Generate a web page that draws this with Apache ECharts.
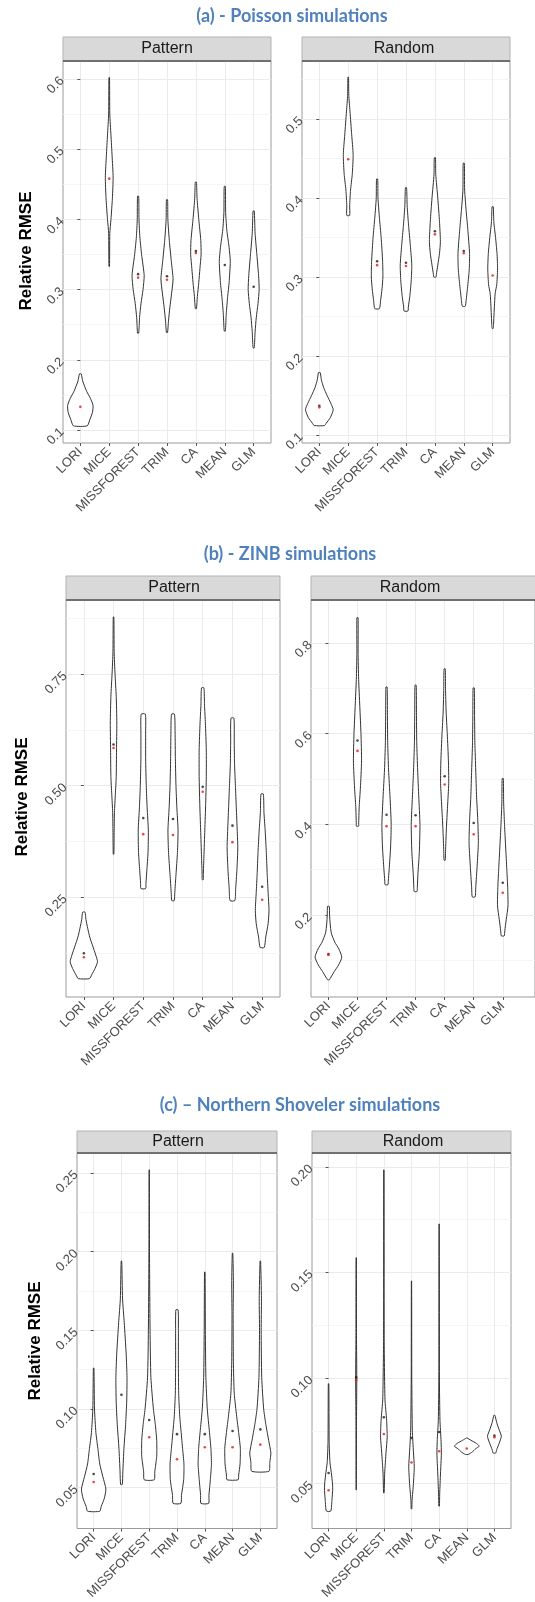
<!DOCTYPE html>
<html>
<head>
<meta charset="utf-8">
<script src="https://cdn.jsdelivr.net/npm/echarts@6/dist/echarts.min.js"></script>
<style>
  html, body { margin: 0; padding: 0; background: #fff; }
  #chart { width: 535px; height: 1602px; }
</style>
</head>
<body>
<div id="chart"></div>
<script>
const methods = ['LORI', 'MICE', 'MISSFOREST', 'TRIM', 'CA', 'MEAN', 'GLM']

// violin outlines: [value, half width in category units], top to bottom
const poissonPattern = [
  [[0.180, 0.03], [0.170, 0.08], [0.155, 0.22], [0.145, 0.35], [0.135, 0.44], [0.125, 0.42], [0.115, 0.33], [0.106, 0.24]],
  [[0.602, 0.01], [0.550, 0.02], [0.520, 0.06], [0.490, 0.10], [0.460, 0.135], [0.430, 0.11], [0.400, 0.06], [0.380, 0.02], [0.333, 0.01]],
  [[0.433, 0.02], [0.400, 0.03], [0.375, 0.06], [0.350, 0.12], [0.320, 0.21], [0.300, 0.17], [0.280, 0.10], [0.260, 0.05], [0.238, 0.02]],
  [[0.428, 0.02], [0.400, 0.03], [0.370, 0.08], [0.340, 0.15], [0.315, 0.21], [0.295, 0.16], [0.275, 0.10], [0.255, 0.05], [0.239, 0.02]],
  [[0.453, 0.02], [0.430, 0.04], [0.400, 0.10], [0.370, 0.17], [0.350, 0.18], [0.330, 0.14], [0.310, 0.10], [0.290, 0.05], [0.273, 0.02]],
  [[0.447, 0.02], [0.410, 0.03], [0.385, 0.07], [0.360, 0.15], [0.340, 0.19], [0.310, 0.15], [0.290, 0.10], [0.265, 0.05], [0.241, 0.02]],
  [[0.412, 0.02], [0.380, 0.05], [0.350, 0.11], [0.320, 0.17], [0.300, 0.19], [0.280, 0.15], [0.260, 0.09], [0.240, 0.05], [0.217, 0.02]]
]
const poissonRandom = [
  [[0.179, 0.03], [0.170, 0.07], [0.160, 0.15], [0.150, 0.27], [0.140, 0.40], [0.132, 0.48], [0.122, 0.38], [0.115, 0.24], [0.112, 0.18]],
  [[0.553, 0.01], [0.530, 0.02], [0.510, 0.06], [0.480, 0.12], [0.455, 0.17], [0.430, 0.14], [0.410, 0.08], [0.390, 0.05], [0.378, 0.05]],
  [[0.424, 0.02], [0.400, 0.03], [0.375, 0.08], [0.350, 0.14], [0.320, 0.19], [0.300, 0.20], [0.285, 0.17], [0.270, 0.12], [0.260, 0.08]],
  [[0.413, 0.02], [0.390, 0.04], [0.365, 0.09], [0.340, 0.15], [0.315, 0.20], [0.295, 0.18], [0.275, 0.13], [0.262, 0.08], [0.257, 0.07]],
  [[0.451, 0.02], [0.430, 0.03], [0.400, 0.10], [0.370, 0.16], [0.345, 0.19], [0.330, 0.16], [0.315, 0.10], [0.303, 0.05], [0.300, 0.04]],
  [[0.444, 0.02], [0.410, 0.03], [0.385, 0.08], [0.360, 0.14], [0.330, 0.20], [0.310, 0.19], [0.290, 0.14], [0.270, 0.08], [0.263, 0.05]],
  [[0.389, 0.02], [0.370, 0.04], [0.350, 0.10], [0.330, 0.15], [0.310, 0.17], [0.290, 0.14], [0.280, 0.09], [0.270, 0.07], [0.255, 0.05], [0.240, 0.03], [0.235, 0.02]]
]
const zinbPattern = [
  [[0.216, 0.04], [0.200, 0.07], [0.180, 0.13], [0.160, 0.20], [0.140, 0.30], [0.120, 0.40], [0.105, 0.46], [0.090, 0.38], [0.075, 0.26], [0.067, 0.19]],
  [[0.878, 0.01], [0.800, 0.02], [0.750, 0.05], [0.700, 0.09], [0.640, 0.11], [0.580, 0.10], [0.520, 0.09], [0.480, 0.06], [0.440, 0.03], [0.400, 0.02], [0.346, 0.01]],
  [[0.660, 0.07], [0.620, 0.08], [0.560, 0.08], [0.500, 0.10], [0.450, 0.13], [0.400, 0.17], [0.350, 0.16], [0.310, 0.12], [0.280, 0.09], [0.269, 0.08]],
  [[0.660, 0.05], [0.620, 0.07], [0.560, 0.08], [0.500, 0.10], [0.450, 0.13], [0.400, 0.17], [0.350, 0.15], [0.300, 0.10], [0.260, 0.06], [0.242, 0.04]],
  [[0.719, 0.04], [0.680, 0.06], [0.640, 0.09], [0.580, 0.12], [0.520, 0.12], [0.460, 0.10], [0.400, 0.07], [0.340, 0.04], [0.300, 0.02], [0.289, 0.02]],
  [[0.651, 0.05], [0.600, 0.06], [0.550, 0.07], [0.500, 0.10], [0.450, 0.13], [0.400, 0.16], [0.360, 0.18], [0.310, 0.15], [0.270, 0.11], [0.242, 0.08]],
  [[0.481, 0.04], [0.440, 0.06], [0.400, 0.10], [0.350, 0.14], [0.300, 0.17], [0.260, 0.20], [0.220, 0.23], [0.190, 0.20], [0.160, 0.12], [0.137, 0.07]]
]
const zinbRandom = [
  [[0.219, 0.03], [0.200, 0.04], [0.180, 0.06], [0.160, 0.10], [0.140, 0.22], [0.125, 0.36], [0.107, 0.46], [0.090, 0.35], [0.075, 0.20], [0.060, 0.06], [0.057, 0.03]],
  [[0.856, 0.02], [0.780, 0.02], [0.720, 0.04], [0.660, 0.08], [0.600, 0.12], [0.540, 0.14], [0.480, 0.10], [0.440, 0.06], [0.400, 0.04], [0.396, 0.04]],
  [[0.703, 0.02], [0.640, 0.03], [0.580, 0.04], [0.520, 0.07], [0.460, 0.12], [0.400, 0.16], [0.350, 0.14], [0.300, 0.09], [0.275, 0.06], [0.267, 0.05]],
  [[0.707, 0.02], [0.640, 0.03], [0.580, 0.04], [0.520, 0.07], [0.460, 0.11], [0.400, 0.15], [0.340, 0.13], [0.290, 0.08], [0.260, 0.06], [0.252, 0.05]],
  [[0.743, 0.02], [0.700, 0.03], [0.650, 0.05], [0.600, 0.09], [0.540, 0.13], [0.490, 0.14], [0.440, 0.10], [0.390, 0.06], [0.340, 0.03], [0.321, 0.02]],
  [[0.701, 0.02], [0.640, 0.03], [0.580, 0.04], [0.520, 0.07], [0.460, 0.10], [0.410, 0.14], [0.360, 0.16], [0.310, 0.12], [0.260, 0.07], [0.240, 0.05]],
  [[0.501, 0.02], [0.450, 0.03], [0.400, 0.06], [0.350, 0.10], [0.300, 0.14], [0.260, 0.17], [0.220, 0.18], [0.190, 0.12], [0.165, 0.07], [0.154, 0.05]]
]
const shovelerPattern = [
  [[0.126, 0.01], [0.100, 0.03], [0.085, 0.08], [0.075, 0.15], [0.065, 0.22], [0.057, 0.33], [0.049, 0.44], [0.043, 0.38], [0.038, 0.27], [0.035, 0.22]],
  [[0.194, 0.01], [0.170, 0.04], [0.155, 0.10], [0.135, 0.17], [0.120, 0.20], [0.105, 0.19], [0.090, 0.15], [0.075, 0.09], [0.060, 0.05], [0.052, 0.03]],
  [[0.252, 0.005], [0.200, 0.01], [0.150, 0.03], [0.120, 0.06], [0.100, 0.15], [0.090, 0.22], [0.080, 0.27], [0.070, 0.27], [0.060, 0.20], [0.055, 0.18]],
  [[0.163, 0.04], [0.150, 0.05], [0.130, 0.05], [0.110, 0.06], [0.095, 0.10], [0.085, 0.15], [0.075, 0.20], [0.065, 0.25], [0.055, 0.24], [0.045, 0.16], [0.040, 0.14]],
  [[0.187, 0.01], [0.150, 0.02], [0.120, 0.04], [0.100, 0.09], [0.085, 0.17], [0.075, 0.22], [0.065, 0.24], [0.055, 0.20], [0.045, 0.15], [0.040, 0.14]],
  [[0.199, 0.01], [0.180, 0.03], [0.160, 0.02], [0.130, 0.03], [0.110, 0.06], [0.095, 0.15], [0.085, 0.22], [0.075, 0.28], [0.065, 0.27], [0.058, 0.22], [0.055, 0.20]],
  [[0.194, 0.01], [0.170, 0.04], [0.150, 0.03], [0.120, 0.05], [0.100, 0.12], [0.090, 0.20], [0.080, 0.30], [0.072, 0.38], [0.066, 0.34], [0.0604, 0.31]]
]
const shovelerRandom = [
  [[0.0973, 0.01], [0.070, 0.02], [0.060, 0.05], [0.054, 0.11], [0.048, 0.15], [0.042, 0.12], [0.037, 0.08]],
  [[0.157, 0.005], [0.120, 0.01], [0.100, 0.02], [0.080, 0.01], [0.047, 0.005]],
  [[0.1986, 0.005], [0.120, 0.01], [0.090, 0.04], [0.080, 0.10], [0.072, 0.12], [0.065, 0.08], [0.055, 0.03], [0.0456, 0.01]],
  [[0.146, 0.005], [0.100, 0.01], [0.075, 0.03], [0.065, 0.07], [0.058, 0.10], [0.050, 0.07], [0.042, 0.02], [0.038, 0.01]],
  [[0.173, 0.005], [0.100, 0.01], [0.080, 0.03], [0.070, 0.07], [0.064, 0.08], [0.055, 0.05], [0.045, 0.02], [0.0393, 0.01]],
  [[0.0716, 0.01], [0.0705, 0.15], [0.069, 0.35], [0.0677, 0.45], [0.0665, 0.32], [0.065, 0.20], [0.0638, 0.05]],
  [[0.0823, 0.02], [0.079, 0.08], [0.0755, 0.17], [0.0724, 0.25], [0.069, 0.17], [0.066, 0.08], [0.0645, 0.05]]
]

// summary dots per method (black and red)
const poissonPatternBlack = [null, null, 0.322, 0.319, 0.355, 0.335, 0.304]
const poissonPatternRed = [0.133, 0.458, 0.317, 0.314, 0.352, null, null]
const poissonRandomBlack = [0.137, null, 0.320, 0.318, 0.358, 0.333, null]
const poissonRandomRed = [0.135, 0.449, 0.315, 0.314, 0.354, 0.330, 0.302]
const zinbPatternBlack = [0.124, 0.592, 0.427, 0.425, 0.497, 0.410, 0.273]
const zinbPatternRed = [0.115, 0.584, 0.391, 0.389, 0.486, 0.373, 0.244]
const zinbRandomBlack = [0.114, 0.585, 0.421, 0.420, 0.506, 0.403, 0.271]
const zinbRandomRed = [0.112, 0.562, 0.396, 0.396, 0.488, 0.378, 0.249]
const shovelerPatternBlack = [0.0587, 0.109, 0.093, 0.084, 0.084, 0.086, 0.087]
const shovelerPatternRed = [0.0536, null, 0.082, 0.068, 0.0757, 0.0757, 0.0773]
const shovelerRandomBlack = [0.055, 0.1003, 0.0814, 0.0716, 0.0744, null, 0.0727]
const shovelerRandomRed = [0.0468, 0.0989, 0.0735, 0.060, 0.0653, 0.0666, 0.072]

// tick labels and minor grid values
const poissonPatternTicks = [0.1, 0.2, 0.3, 0.4, 0.5, 0.6]
const poissonPatternMinor = [0.15, 0.25, 0.35, 0.45, 0.55]
const poissonRandomTicks = [0.1, 0.2, 0.3, 0.4, 0.5]
const poissonRandomMinor = [0.15, 0.25, 0.35, 0.45, 0.55]
const zinbPatternTicks = [0.25, 0.5, 0.75]
const zinbPatternMinor = [0.125, 0.375, 0.625, 0.875]
const zinbRandomTicks = [0.2, 0.4, 0.6, 0.8]
const zinbRandomMinor = [0.1, 0.3, 0.5, 0.7]
const shovelerPatternTicks = [0.05, 0.1, 0.15, 0.2, 0.25]
const shovelerPatternMinor = [0.075, 0.125, 0.175, 0.225]
const shovelerRandomTicks = [0.05, 0.1, 0.15, 0.2]
const shovelerRandomMinor = [0.075, 0.125, 0.175]

const sectionTitles = ['(a) - Poisson simulations', '(b) - ZINB simulations', '(c) \u2013 Northern Shoveler simulations']
const facetNames = ['Pattern', 'Random']
const yTitle = 'Relative RMSE'

const FONT = '"Liberation Sans", Arial, sans-serif'

const panels = [
  { grid: { left: 63, top: 61, width: 208, height: 382 }, y: [0.0815, 0.6256], xMax: 6.6, shapes: poissonPattern, black: poissonPatternBlack, red: poissonPatternRed, ticks: poissonPatternTicks, minor: poissonPatternMinor, dec: 1, strip: [37, 24], stripX: 167, facet: 0 },
  { grid: { left: 302, top: 61, width: 208, height: 382 }, y: [0.0899, 0.5734], xMax: 6.6, shapes: poissonRandom, black: poissonRandomBlack, red: poissonRandomRed, ticks: poissonRandomTicks, minor: poissonRandomMinor, dec: 1, strip: [37, 24], stripX: 404, facet: 1 },
  { grid: { left: 66, top: 600, width: 214, height: 397 }, y: [0.0258, 0.916], xMax: 6.6, shapes: zinbPattern, black: zinbPatternBlack, red: zinbPatternRed, ticks: zinbPatternTicks, minor: zinbPatternMinor, dec: 2, strip: [576, 24], stripX: 174, facet: 0 },
  { grid: { left: 311, top: 600, width: 229, height: 397 }, y: [0.0191, 0.8949], xMax: 7.11, shapes: zinbRandom, black: zinbRandomBlack, red: zinbRandomRed, ticks: zinbRandomTicks, minor: zinbRandomMinor, dec: 1, strip: [576, 24], stripX: 410, facet: 1 },
  { grid: { left: 77, top: 1153, width: 200, height: 376 }, y: [0.024, 0.2627], xMax: 6.6, shapes: shovelerPattern, black: shovelerPatternBlack, red: shovelerPatternRed, ticks: shovelerPatternTicks, minor: shovelerPatternMinor, dec: 2, strip: [1131, 22], stripX: 178, facet: 0 },
  { grid: { left: 312, top: 1153, width: 199, height: 376 }, y: [0.0287, 0.2066], xMax: 6.6, shapes: shovelerRandom, black: shovelerRandomBlack, red: shovelerRandomRed, ticks: shovelerRandomTicks, minor: shovelerRandomMinor, dec: 2, strip: [1131, 22], stripX: 413, facet: 1 }
]

const methodIdx = methods.map((_, i) => i)

function violinItem(shapes) {
  return function (params, api) {
    const i = api.value(0)
    const prof = shapes[i]
    const right = prof.map(p => api.coord([i + p[1], p[0]]))
    const left = prof.slice().reverse().map(p => api.coord([i - p[1], p[0]]))
    return {
      type: 'polygon',
      shape: { points: right.concat(left), smooth: 0.2 },
      style: { fill: '#fff', stroke: '#333', lineWidth: 1 }
    }
  }
}

const dots = (vals) => vals.map((v, i) => (v == null ? null : [i, v])).filter(d => d)

const grids = [], xAxes = [], yAxes = [], series = [], graphics = []

panels.forEach((p, k) => {
  grids.push(Object.assign({ show: true, borderColor: '#9a9a9a', borderWidth: 1, backgroundColor: '#fff' }, p.grid))
  xAxes.push({
    type: 'value', gridIndex: k, min: -0.6, max: p.xMax,
    axisLine: { show: false },
    axisTick: { show: true, customValues: methodIdx, length: 3, lineStyle: { color: '#555' } },
    axisLabel: { customValues: methodIdx, formatter: v => methods[Math.round(v)], rotate: 45, margin: 7, fontSize: 13, color: '#4d4d4d', fontFamily: FONT },
    splitLine: { show: true, lineStyle: { color: '#ebebeb', width: 1 } }
  })
  yAxes.push({
    type: 'value', gridIndex: k, min: p.y[0], max: p.y[1],
    axisLine: { show: false },
    axisTick: { show: true, customValues: p.ticks, length: 3, lineStyle: { color: '#555' } },
    axisLabel: { customValues: p.ticks, formatter: v => v.toFixed(p.dec), rotate: 45, margin: 1, fontSize: 13, color: '#4d4d4d', fontFamily: FONT },
    splitLine: { show: true, lineStyle: { color: '#ebebeb', width: 1 } }
  })
  yAxes.push({
    type: 'value', gridIndex: k, min: p.y[0], max: p.y[1],
    axisLine: { show: false },
    axisTick: { show: false, customValues: p.minor },
    axisLabel: { show: false, customValues: p.minor },
    splitLine: { show: true, lineStyle: { color: '#f3f3f3', width: 0.8 } }
  })
  series.push({
    type: 'custom', xAxisIndex: k, yAxisIndex: 2 * k,
    renderItem: violinItem(p.shapes),
    encode: { x: 0, y: 1 },
    data: methodIdx.map(i => [i, p.shapes[i][0][0]]),
    z: 2
  })
  series.push({
    type: 'scatter', xAxisIndex: k, yAxisIndex: 2 * k, symbolSize: 2.6,
    itemStyle: { color: '#1a1a1a' }, data: dots(p.black), z: 3, silent: true
  })
  series.push({
    type: 'scatter', xAxisIndex: k, yAxisIndex: 2 * k, symbolSize: 2.6,
    itemStyle: { color: '#e8141a' }, data: dots(p.red), z: 4, silent: true
  })
  // facet strip
  graphics.push({
    type: 'rect', z: 10,
    shape: { x: p.grid.left, y: p.strip[0], width: p.grid.width, height: p.strip[1] },
    style: { fill: '#d9d9d9', stroke: '#b3b3b3', lineWidth: 1 }
  })
  graphics.push({
    type: 'line', z: 11,
    shape: { x1: p.grid.left, y1: p.grid.top, x2: p.grid.left + p.grid.width, y2: p.grid.top },
    style: { stroke: '#555', lineWidth: 1.3 }
  })
  graphics.push({
    type: 'text', z: 12, x: p.stripX, y: p.strip[0] + p.strip[1] / 2,
    style: { text: facetNames[p.facet], fontSize: 16, fontFamily: FONT, fill: '#1a1a1a', align: 'center', verticalAlign: 'middle' }
  })
})

// y axis titles
;[[26, 251], [22, 797], [35, 1341]].forEach(([x, y]) => {
  graphics.push({
    type: 'text', x: x, y: y, rotation: Math.PI / 2,
    style: { text: yTitle, fontSize: 17, fontWeight: 'bold', fontFamily: FONT, fill: '#000', align: 'center', verticalAlign: 'middle' }
  })
})

const titles = [[292, 7], [290, 545], [300, 1096]].map(([x, y], i) => ({
  text: sectionTitles[i], left: x, top: y, textAlign: 'center', padding: 0,
  textStyle: { fontFamily: 'Lato, "Open Sans", sans-serif', fontWeight: 'bold', fontSize: 18, color: '#4f81bd' }
}))

const chart = echarts.init(document.getElementById('chart'), null, { renderer: 'canvas' })
chart.setOption({
  backgroundColor: '#fff',
  animation: false,
  title: titles,
  grid: grids,
  xAxis: xAxes,
  yAxis: yAxes,
  series: series,
  graphic: graphics
})
</script>
</body>
</html>
